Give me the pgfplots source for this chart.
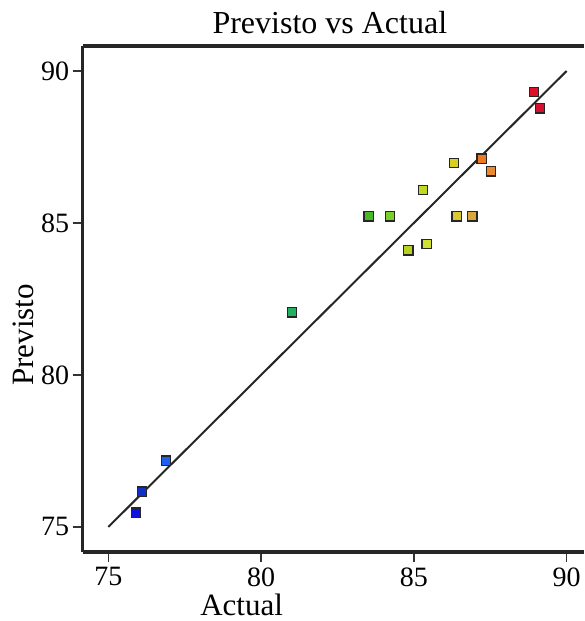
\documentclass[border=0pt]{standalone}
\usepackage{fontspec}
\setmainfont{Liberation Serif}
\usepackage{pgfplots}
\pgfplotsset{compat=1.18}
\definecolor{cRedA}{HTML}{E0102A}
\definecolor{cRedB}{HTML}{D81030}
\definecolor{cOrA}{HTML}{F07820}
\definecolor{cOrB}{HTML}{EC8A30}
\definecolor{cYelA}{HTML}{D8D020}
\definecolor{cYelB}{HTML}{DCC830}
\definecolor{cTan}{HTML}{D8A838}
\definecolor{cYgA}{HTML}{C0D820}
\definecolor{cYgB}{HTML}{B8D020}
\definecolor{cYgC}{HTML}{D0E030}
\definecolor{cGrA}{HTML}{48B828}
\definecolor{cGrB}{HTML}{78D028}
\definecolor{cTeal}{HTML}{20B060}
\definecolor{cBlA}{HTML}{1010E0}
\definecolor{cBlB}{HTML}{1030C8}
\definecolor{cBlC}{HTML}{2060F0}
\pgfplotsset{pt/.style={only marks, mark=square*, mark size=4.6pt, mark options={draw=black!85, line width=1.2pt, fill=#1}, forget plot}}
\begin{document}
\begin{tikzpicture}
\begin{axis}[
  scale only axis, width=501.3pt, height=506pt,
  xmin=74.162, xmax=90.57, ymin=74.176, ymax=90.824,
  axis x line*=box, axis y line*=left,
  xtick={75,80,85,90}, ytick={75,80,85,90},
  xtick pos=left, ytick pos=left,
  tick align=outside, major tick length=10pt,
  tick style={line width=1.5pt, black!80},
  axis line style={line width=3.2pt, black!85},
  /pgf/number format/assume math mode=true,
  tick label style={font=\fontsize{28}{30}\selectfont},
  xticklabel style={yshift=-2pt},
  title={Previsto vs Actual},
  title style={font=\fontsize{32}{36}\selectfont, at={(axis description cs:0.493,1)}, anchor=base, yshift=6pt},
  xlabel={Actual}, ylabel={Previsto},
  xlabel style={font=\fontsize{31}{34}\selectfont, at={(axis description cs:0.317,-0.126)}, anchor=base, inner sep=0pt},
  ylabel style={font=\fontsize{31}{34}\selectfont, at={(axis description cs:-0.0985,0.429)}, anchor=base},
]
\addplot[line width=2pt, black!85] coordinates {(75,75) (90,90)};
\addplot[pt=cRedA] coordinates {(88.94,89.32)};
\addplot[pt=cRedB] coordinates {(89.13,88.77)};
\addplot[pt=cOrA] coordinates {(87.22,87.12)};
\addplot[pt=cOrB] coordinates {(87.52,86.70)};
\addplot[pt=cYelA] coordinates {(86.32,86.98)};
\addplot[pt=cYgA] coordinates {(85.31,86.08)};
\addplot[pt=cGrA] coordinates {(83.52,85.22)};
\addplot[pt=cGrB] coordinates {(84.22,85.22)};
\addplot[pt=cYelB] coordinates {(86.40,85.22)};
\addplot[pt=cTan] coordinates {(86.92,85.22)};
\addplot[pt=cYgB] coordinates {(84.82,84.10)};
\addplot[pt=cYgC] coordinates {(85.42,84.30)};
\addplot[pt=cTeal] coordinates {(81.02,82.06)};
\addplot[pt=cBlC] coordinates {(76.89,77.18)};
\addplot[pt=cBlB] coordinates {(76.10,76.16)};
\addplot[pt=cBlA] coordinates {(75.90,75.47)};
\end{axis}
\pgfresetboundingbox
\path (-82.7pt,-69pt) rectangle (501.3pt,552pt);
\end{tikzpicture}
\end{document}
